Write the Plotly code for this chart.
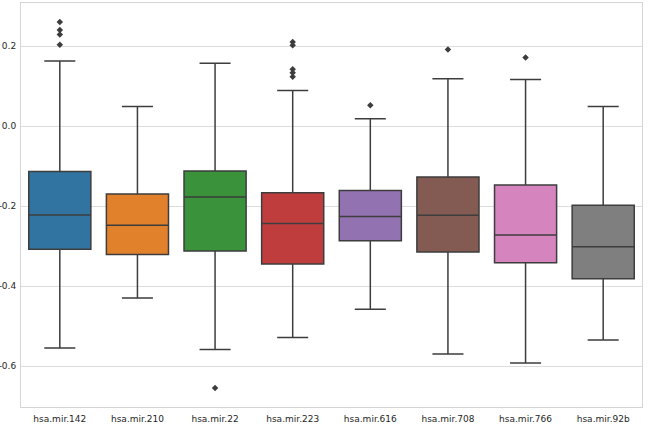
import plotly.graph_objects as go

categories = ["hsa.mir.142", "hsa.mir.210", "hsa.mir.22", "hsa.mir.223",
              "hsa.mir.616", "hsa.mir.708", "hsa.mir.766", "hsa.mir.92b"]
q1 = [-0.308, -0.321, -0.3125, -0.345, -0.287, -0.315, -0.342, -0.382]
median = [-0.2225, -0.248, -0.1775, -0.244, -0.226, -0.223, -0.2725, -0.302]
q3 = [-0.114, -0.170, -0.1125, -0.167, -0.161, -0.1275, -0.1475, -0.198]
lower = [-0.555, -0.430, -0.559, -0.529, -0.458, -0.570, -0.5925, -0.535]
upper = [0.1625, 0.049, 0.157, 0.089, 0.018, 0.118, 0.116, 0.049]
outliers = {
    "hsa.mir.142": [0.260, 0.240, 0.229, 0.203],
    "hsa.mir.210": [],
    "hsa.mir.22": [-0.655],
    "hsa.mir.223": [0.210, 0.202, 0.142, 0.133, 0.123],
    "hsa.mir.616": [0.052],
    "hsa.mir.708": [0.191],
    "hsa.mir.766": [0.171],
    "hsa.mir.92b": [],
}
colors = ["#3274a1", "#e1812c", "#3a923a", "#c03d3e",
          "#9372b2", "#845b53", "#d684bd", "#7f7f7f"]
ytick_vals = [-0.6, -0.4, -0.2, 0.0, 0.2]
ytick_text = ["-0.6", "-0.4", "-0.2", "0.0", "0.2"]

line_col = "#3d3d3d"
fig = go.Figure()
for i, c in enumerate(categories):
    fig.add_trace(go.Box(
        x=[c], q1=[q1[i]], median=[median[i]], q3=[q3[i]],
        lowerfence=[lower[i]], upperfence=[upper[i]],
        fillcolor=colors[i], line=dict(color=line_col, width=1.5),
        width=0.8, whiskerwidth=0.5, boxpoints=False, showlegend=False,
        hoverinfo="skip"))
    if outliers[c]:
        fig.add_trace(go.Scatter(
            x=[c] * len(outliers[c]), y=outliers[c], mode="markers",
            marker=dict(symbol="diamond", size=5, color=line_col),
            showlegend=False, hoverinfo="skip"))

fig.update_layout(
    width=652, height=433,
    margin=dict(l=21, r=10, t=3, b=26),
    paper_bgcolor="white", plot_bgcolor="white",
    font=dict(family="DejaVu Sans", size=9, color="#262626"),
)
fig.update_xaxes(
    type="category", categoryorder="array", categoryarray=categories,
    range=[-0.5, 7.5], showgrid=False, showline=True, mirror=True,
    linecolor="#d5d5d5", linewidth=1, ticks="", ticklabelstandoff=3,
    automargin=False, zeroline=False,
)
fig.update_yaxes(
    range=[-0.7025, 0.3075], tickvals=ytick_vals, ticktext=ytick_text,
    showgrid=True, gridcolor="#dcdcdc", gridwidth=1,
    showline=True, mirror=True, linecolor="#d5d5d5", linewidth=1,
    ticks="", zeroline=False, automargin=False, ticklabelstandoff=2,
)
fig.write_html("out.html", config={"displayModeBar": False},
               post_script="document.body.style.margin='0';document.body.style.overflow='hidden';")
